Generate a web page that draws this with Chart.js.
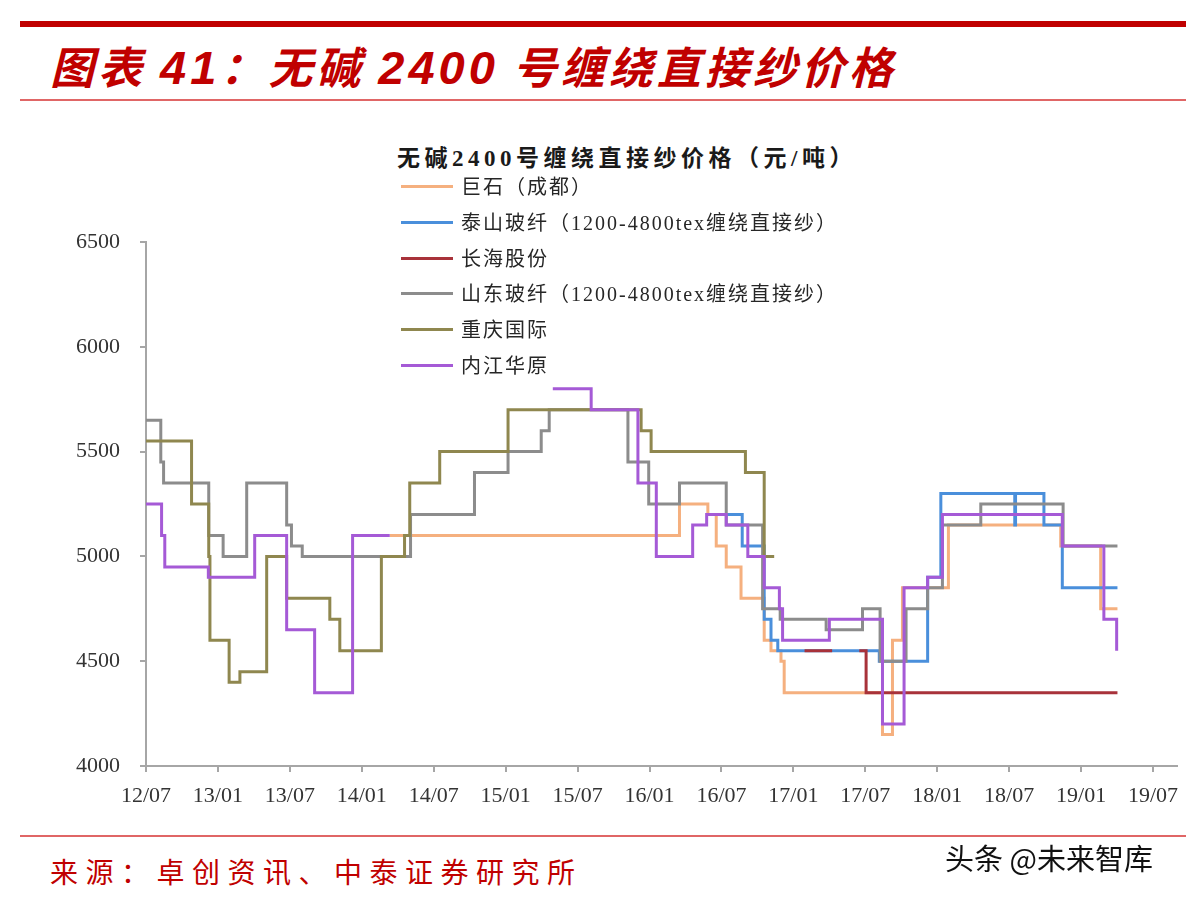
<!DOCTYPE html>
<html>
<head>
<meta charset="utf-8">
<script src="https://cdn.jsdelivr.net/npm/chart.js@4.4.1/dist/chart.umd.min.js"></script>
<style>
  html, body { margin: 0; padding: 0; background: #fff; }
  #page { position: relative; width: 1186px; height: 898px; overflow: hidden; background: #fff; }
  .rule { position: absolute; left: 20px; width: 1166px; }
  #ruleTop { top: 21px; height: 6px; background: #c00000; }
  #ruleMid { top: 99px; height: 2px; background: #e06666; }
  #ruleBottom { top: 835px; height: 2px; background: #e06666; }
  #title { position: absolute; left: 50px; top: 33px; font: italic bold 44px "Noto Sans CJK SC"; color: #c00000; letter-spacing: 4px; white-space: nowrap; }
  #title .num { font-family: "Liberation Sans"; font-size: 47px; }
  #chart { position: absolute; left: 0; top: 200px; }
  #chartTitle { position: absolute; left: 397px; top: 139px; font: bold 23px "Liberation Serif", "Noto Sans CJK SC"; color: #1a1a1a; letter-spacing: 4.5px; white-space: nowrap; }
  #legend { position: absolute; left: 401px; top: 170px; }
  .item { position: absolute; left: 0; height: 34px; white-space: nowrap; }
  .item i { position: absolute; left: 0; top: 15px; width: 52px; height: 3px; }
  .item span { position: absolute; left: 60px; top: 1px; font: 20px "Liberation Serif", "Noto Sans CJK SC"; color: #262626; letter-spacing: 2px; }
  #source { position: absolute; left: 50px; top: 851px; font: 28px "Noto Sans CJK SC"; color: #c00000; letter-spacing: 7.5px; white-space: nowrap; }
  #mark { position: absolute; left: 945px; top: 836px; font: 29px "Noto Sans CJK SC"; color: #111; white-space: nowrap; }
</style>
</head>
<body>
<div id="page">
  <div class="rule" id="ruleTop"></div>
  <div id="title">图表 <span class="num">41</span>：无碱 <span class="num">2400</span> 号缠绕直接纱价格</div>
  <div class="rule" id="ruleMid"></div>
  <canvas id="chart" width="1186" height="640"></canvas>
  <div id="chartTitle">无碱2400号缠绕直接纱价格（元/吨）</div>
  <div id="legend"></div>
  <div class="rule" id="ruleBottom"></div>
  <div id="source">来源：卓创资讯、中泰证券研究所</div>
  <div id="mark">头条 @未来智库</div>
</div>
<script>
// series names, same order as the legend
const seriesNames = ['巨石（成都）', '泰山玻纤（1200-4800tex缠绕直接纱）', '长海股份',
  '山东玻纤（1200-4800tex缠绕直接纱）', '重庆国际', '内江华原'];
const seriesColors = ['#f5b07f', '#4a8fdb', '#a8323a', '#8c8c8c', '#8f874f', '#a55ad6'];

// x axis tick labels, one every 6 months from 2012/07
const tickLabels = ['12/07', '13/01', '13/07', '14/01', '14/07', '15/01', '15/07', '16/01',
  '16/07', '17/01', '17/07', '18/01', '18/07', '19/01', '19/07'];

// each series: dates where the price changes, and the new price (yuan/ton)
const jushiDates = ['2014-03-11', '2016-03-16', '2016-05-27', '2016-06-18', '2016-07-13', '2016-08-20',
  '2016-10-18', '2016-11-05', '2016-11-30', '2016-12-08', '2017-08-14', '2017-09-09', '2017-10-04',
  '2018-01-29', '2018-11-10', '2019-02-20', '2019-04-02'];
const jushiPrices = [5100, 5250, 5200, 5050, 4950, 4800, 4600, 4550, 4500, 4350, 4150, 4600, 4850,
  5150, 5050, 4750, 4750];

const taishanDates = ['2016-06-18', '2016-08-23', '2016-10-18', '2016-11-05', '2016-11-22', '2017-08-06',
  '2017-12-07', '2018-01-10', '2018-07-15', '2018-07-17', '2018-09-28', '2018-11-14', '2019-04-02'];
const taishanPrices = [5200, 5050, 4700, 4600, 4550, 4500, 4900, 5300, 5150, 5300, 5150, 4850, 4850];

const changhaiDates = ['2017-01-29', '2017-04-08', '2017-04-09', '2017-06-16', '2017-07-03', '2019-04-02'];
const changhaiPrices = [4550, 4550, null, 4550, 4350, 4350];

const shandongDates = ['2012-07-01', '2012-08-08', '2012-08-15', '2012-12-08', '2013-01-14', '2013-03-13',
  '2013-06-23', '2013-07-05', '2013-08-02', '2014-05-03', '2014-10-13', '2015-01-07', '2015-03-30',
  '2015-04-20', '2015-11-07', '2015-12-29', '2016-03-16', '2016-07-13', '2016-10-14', '2016-11-28',
  '2017-03-23', '2017-06-24', '2017-08-08', '2017-10-13', '2017-12-07', '2018-01-14', '2018-04-20',
  '2018-11-16', '2019-04-02'];
const shandongPrices = [5650, 5450, 5350, 5100, 5000, 5350, 5150, 5050, 5000, 5200, 5400, 5500, 5600,
  5700, 5450, 5250, 5350, 5150, 4750, 4700, 4650, 4750, 4500, 4750, 4850, 5150, 5250, 5050, 5050];

const chongqingDates = ['2012-07-01', '2012-10-25', '2012-12-08', '2012-12-11', '2013-01-29', '2013-02-26',
  '2013-05-03', '2013-06-23', '2013-10-11', '2013-11-06', '2014-02-20', '2014-04-18', '2014-05-01',
  '2014-07-16', '2015-01-07', '2015-12-10', '2016-01-05', '2016-09-01', '2016-10-18', '2016-11-13'];
const chongqingPrices = [5550, 5250, 5000, 4600, 4400, 4450, 5000, 4800, 4700, 4550, 5000, 5100, 5350,
  5500, 5700, 5600, 5500, 5400, 5000, 5000];

const neijiangDates = ['2012-07-01', '2012-08-10', '2012-08-18', '2012-12-07', '2013-04-03', '2013-06-23',
  '2013-09-03', '2013-12-08', '2014-03-11', '2014-03-12', '2015-04-29', '2015-08-05', '2015-12-02',
  '2016-01-18', '2016-04-19', '2016-05-24', '2016-07-13', '2016-09-07', '2016-10-18', '2016-11-26',
  '2016-12-04', '2017-04-01', '2017-08-14', '2017-10-08', '2017-12-07', '2018-01-14', '2018-11-14',
  '2019-02-28', '2019-03-30'];
const neijiangPrices = [5250, 5100, 4950, 4900, 5100, 4650, 4350, 5100, 5100, null, 5800, 5700, 5350,
  5000, 5150, 5200, 5150, 5000, 4850, 4750, 4600, 4700, 4200, 4850, 4900, 5200, 5050, 4700, 4550];

const allDates = [jushiDates, taishanDates, changhaiDates, shandongDates, chongqingDates, neijiangDates];
const allPrices = [jushiPrices, taishanPrices, changhaiPrices, shandongPrices, chongqingPrices, neijiangPrices];

// months since 2012/07
function toMonth(s) {
  const [y, m, d] = s.split('-').map(Number);
  return (y - 2012) * 12 + (m - 7) + (d - 1) / 30;
}

const datasets = seriesNames.map((name, i) => ({
  label: name,
  data: allDates[i].map((d, j) => ({ x: toMonth(d), y: allPrices[i][j] })),
  borderColor: seriesColors[i],
  borderWidth: 3,
  stepped: true,
  pointRadius: 0,
  spanGaps: false,
  order: seriesNames.length - i   // later series on top, like the original
}));

// legend as html
const legend = document.getElementById('legend');
seriesNames.forEach((name, i) => {
  const row = document.createElement('div');
  row.className = 'item';
  row.style.top = (i * 35.8) + 'px';
  row.innerHTML = `<i style="background:${seriesColors[i]}"></i><span>${name}</span>`;
  legend.appendChild(row);
});

const axisColor = '#a6a6a6';
const tickFont = { family: 'Liberation Serif', size: 22 };

new Chart(document.getElementById('chart'), {
  type: 'line',
  data: { datasets: datasets },
  options: {
    responsive: false,
    animation: false,
    devicePixelRatio: 1,
    layout: { padding: { top: 42, right: 9, left: 0, bottom: 0 } },
    plugins: { legend: { display: false }, tooltip: { enabled: false } },
    scales: {
      x: {
        type: 'linear',
        min: 0,
        max: 86,
        afterBuildTicks: (scale) => {
          scale.ticks = tickLabels.map((t, i) => ({ value: i * 6 }));
        },
        // keep the plot edges fixed: no extra room for the end labels
        afterFit: (scale) => { scale.height = 74; scale.paddingLeft = 0; scale.paddingRight = 0; },
        ticks: {
          autoSkip: false,
          maxRotation: 0,
          padding: 11,
          color: '#333',
          font: tickFont,
          callback: (v) => tickLabels[v / 6]
        },
        grid: { drawOnChartArea: false, drawTicks: true, tickLength: 6, color: axisColor, lineWidth: 2 },
        border: { display: true, color: axisColor, width: 2 }
      },
      y: {
        min: 4000,
        max: 6500,
        afterFit: (scale) => { scale.width = 146; scale.paddingTop = 0; scale.paddingBottom = 0; },
        ticks: { stepSize: 500, padding: 20, color: '#333', font: tickFont, callback: (v) => String(v) },
        grid: { drawOnChartArea: false, drawTicks: true, tickLength: 6, color: axisColor, lineWidth: 2 },
        border: { display: true, color: axisColor, width: 2 }
      }
    }
  }
});
</script>
</body>
</html>
